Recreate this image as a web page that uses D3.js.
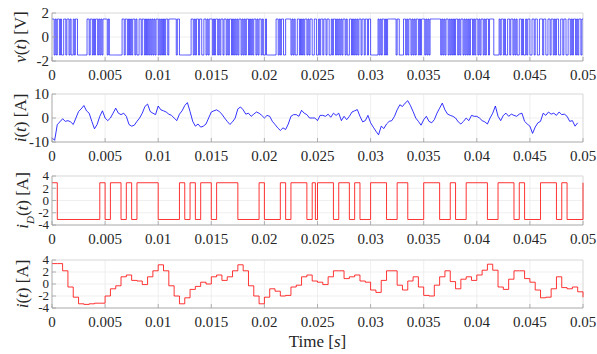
<!DOCTYPE html>
<html>
<head>
<meta charset="utf-8">
<script src="https://cdn.jsdelivr.net/npm/d3@7"></script>
<style>
  body { margin: 0; background: #fff; }
  svg text { font-family: "Liberation Serif", "Times New Roman", serif; fill: #262626; }
</style>
</head>
<body>
<figure style="margin:0"></figure>
<script>
// x axis
const xTicks = [0, 0.005, 0.01, 0.015, 0.02, 0.025, 0.03, 0.035, 0.04, 0.045, 0.05];
const xTickLabels = ["0", "0.005", "0.01", "0.015", "0.02", "0.025", "0.03", "0.035", "0.04", "0.045", "0.05"];

// v(t): switching state, one char per 0.1 ms, one string per 5 ms
const vStep = 0.0001;
const vLevels = [-1.5, 1.5];
const vBits = [
  "11010110100110110100101100000000011011010110101011",
  "11010000000000001101101010110100110110101010101011",
  "01010101101111111011000000000001101011011001101011",
  "10101101011011010110101010110101011010101101011010",
  "01000000000110101100111110101001101010110101100110",
  "01011011011001011010101011010011010101011011011011",
  "00000001010110101111111101100001101011010101101011",
  "10101011111111110101011010101011010110101010110101",
  "10101101011011110000010110100110110101001101001011",
  "00110110011101100110110101100110110011010110101101"
];

// i(t): sampled every 0.25 ms
const iStep = 0.00025;
const iVals = [
  -8.2, -9.3, -2.7, -1.6, -0.3, -1.4, -1.1, -1.6, -2.7, 0, 2.7, 3.8, 5.2, 3, 2, -1.4, -4.5, -2.7, 0.7, 3,
  0, -1.1, 0, 2, 4.1, 2, 1.4, 2, 0.7, -2.7, -3.4, -3, -1.4, 0, 2, 4.8, 5.8, 2.7, 2, 1.4,
  5, 3.4, 3, 2.5, 1.6, 1.1, 0, -1.1, 1.6, 3, 5.2, 6.4, 2.7, -1.4, -3.4, -2.5, -3.8, -3.4, -2.5, 0,
  2.5, 3, 3.4, 2.7, 1.6, 0, -1.4, -2.7, -1.6, 0, 3.8, 4.6, 3.4, 1.6, 2, 0.7, 1.6, 2.5, 2, 1.1,
  0, 1.1, 0.7, -1.4, -2.7, -4.1, -5.2, -4.1, -4.8, -2.5, 0.7, 1.4, 1.4, 0.7, 3.2, 2, 1.4, 0, 0, 0,
  -1.1, 1.1, 1.1, 0.7, 1.6, 0.3, 2, 1.1, 2, -1.1, 0.7, -0.7, 0.7, 2.5, 3, 3.5, 0.7, -1.6, -1.1, 1.1,
  -2, -3.8, -5.5, -7, -3.4, -4.4, -2.5, -1.4, -1.1, 0.7, 3.4, 5.5, 4.8, 6.2, 7.2, 5.2, 2.7, 0, -1.4, -3,
  -0.7, 0.7, -1.4, -2, -0.7, 2, 4.1, 6.2, 3.4, 1.6, 1.1, 0.7, 0, -1.6, -2.5, -1.4, 0, -1.1, 1.1, 0.7,
  0.7, 0, -1.1, -1.6, -2.5, 0, 2, 5, 0.7, -1.1, 1.1, 2, 0.7, 1.6, 1.1, 0.7, 1.6, 2, -1.4, -2.5,
  -3.4, -6.4, -3.8, -2, -1.4, 2, 1.1, 2.5, 1.6, 2, 1.1, 2.5, 1.4, 1.6, 0.7, -1.4, -1.1, -3.4, -2
];

// i_D(t): two levels, switching times (starts high)
const iDLevels = [2.9, -3.1];
const iDSwitch = [0.0005, 0.0045, 0.005, 0.0055, 0.0065, 0.007, 0.0075, 0.008, 0.01, 0.012,
  0.0125, 0.013, 0.0135, 0.014, 0.015, 0.0155, 0.0175, 0.0195, 0.02, 0.0215,
  0.022, 0.0225, 0.024, 0.0245, 0.0248, 0.025, 0.0265, 0.027, 0.028, 0.0285,
  0.029, 0.03, 0.0315, 0.0325, 0.0335, 0.035, 0.0365, 0.0375, 0.038, 0.039,
  0.041, 0.042, 0.0435, 0.044, 0.0445, 0.046, 0.0475, 0.048, 0.0485, 0.05];

// filtered i(t): held for 0.5 ms, last entry is the value at 0.05
const hStep = 0.0005;
const hVals = [
  3.4, 3.4, 2.2, -0.5, -2.2, -3.3, -3.4, -3.3, -3.2, -3.2,
  -2.0, -0.8, -0.3, 1.2, 1.5, 0.6, 0.5, -0.1, 1.2, 2.2,
  3.2, 2.2, -0.3, -2.0, -3.3, -2.3, -0.9, -0.4, 0.3, 0,
  1.2, 1.5, 0.6, 1.2, 2.2, 3.2, 2.2, -0.3, -2.0, -3.3,
  -2.2, -0.8, -1.2, -2.0, -1.9, -0.5, -0.2, 1.2, 1.5, 0.5,
  0.3, -0.1, 1.2, 2.2, 2.2, 0.9, 1.2, 1.5, 0.5, 0.3,
  -1.0, -1.4, 0.6, 2.2, 2.2, -0.2, -1.0, 0.5, 1.2, -0.5,
  -1.9, -2.0, -0.2, 1.2, 2.2, 0.4, -0.8, 0.8, 1.2, 0.6,
  1.5, 2.3, 3.3, 2.3, -0.5, -0.9, 0.8, 2.2, 2.2, 0.9,
  0.3, -1.0, -2.3, -2.2, -0.8, 1.2, -0.6, -0.8, -0.5, -1.3,
  -2.2
];

const W = 597, H = 354;
const left = 52, right = 583;
const blue = "#0000ff", red = "#ff0000";

const svg = d3.select("figure").append("svg")
  .attr("width", W).attr("height", H);

const x = d3.scaleLinear().domain([0, 0.05]).range([left, right]);

// build series
const vData = [];
vBits.join("").split("").forEach((c, k) => vData.push([k * vStep, vLevels[c === "1" ? 1 : 0]]));
vData.push([0.05, vData[vData.length - 1][1]]);

const iData = iVals.map((v, k) => [k * iStep, v]);

const iDData = [[0, iDLevels[0]]];
iDSwitch.forEach((t, k) => iDData.push([t, iDLevels[(k + 1) % 2]]));

const hData = hVals.map((v, k) => [k * hStep, v]);

const panels = [
  { top: 13, bottom: 61, domain: [-2, 2], ticks: [-2, 0, 2], data: vData, curve: d3.curveStepAfter,
    color: blue, width: 0.65, fs: 15, label: [["v", true], ["(", false], ["t", true], [") [V]", false]] },
  { top: 94, bottom: 142, domain: [-10, 10], ticks: [-10, 0, 10], data: iData, curve: d3.curveLinear,
    color: blue, width: 0.8, fs: 15, label: [["i", true], ["(", false], ["t", true], [") [A]", false]] },
  { top: 176, bottom: 225, domain: [-4, 4], ticks: [-4, -2, 0, 2, 4], data: iDData, curve: d3.curveStepAfter,
    color: red, width: 0.8, fs: 13, label: [["i", true], ["D", true, "sub"], ["(", false], ["t", true], [") [A]", false]] },
  { top: 260, bottom: 308, domain: [-4, 4], ticks: [-4, -2, 0, 2, 4], data: hData, curve: d3.curveStepAfter,
    color: red, width: 0.8, fs: 13, label: [["i", true], ["(", false], ["t", true], [") [A]", false]] }
];

panels.forEach(p => {
  const y = d3.scaleLinear().domain(p.domain).range([p.bottom, p.top]);
  const g = svg.append("g");

  // grid
  g.selectAll(".gx").data(xTicks).enter().append("line")
    .attr("x1", d => x(d)).attr("x2", d => x(d))
    .attr("y1", p.top).attr("y2", p.bottom)
    .attr("stroke", "#ebebeb").attr("stroke-width", 0.8);
  g.selectAll(".gy").data(p.ticks).enter().append("line")
    .attr("x1", left).attr("x2", right)
    .attr("y1", d => y(d)).attr("y2", d => y(d))
    .attr("stroke", "#ebebeb").attr("stroke-width", 0.8);

  // box (top/right light)
  g.append("path")
    .attr("d", `M${left},${p.top}H${right}V${p.bottom}`)
    .attr("fill", "none").attr("stroke", "#d9d9d9").attr("stroke-width", 0.8);

  // data line
  g.append("path")
    .datum(p.data)
    .attr("fill", "none")
    .attr("stroke", p.color)
    .attr("stroke-width", p.width)
    .attr("d", d3.line().x(d => x(d[0])).y(d => y(d[1])).curve(p.curve));

  // axes (bottom/left)
  g.append("path")
    .attr("d", `M${left},${p.top}V${p.bottom}H${right}`)
    .attr("fill", "none").attr("stroke", "#a0a0a0").attr("stroke-width", 0.8);
  g.selectAll(".tx").data(xTicks).enter().append("line")
    .attr("x1", d => x(d)).attr("x2", d => x(d))
    .attr("y1", p.bottom).attr("y2", p.bottom - 4)
    .attr("stroke", "#a0a0a0").attr("stroke-width", 0.8);
  g.selectAll(".ty").data(p.ticks).enter().append("line")
    .attr("x1", left).attr("x2", left + 4)
    .attr("y1", d => y(d)).attr("y2", d => y(d))
    .attr("stroke", "#a0a0a0").attr("stroke-width", 0.8);

  // tick labels
  g.selectAll(".lx").data(xTicks).enter().append("text")
    .attr("x", d => x(d)).attr("y", p.bottom + 19)
    .attr("text-anchor", "middle").style("font-size", "15px")
    .text((d, i) => xTickLabels[i]);
  g.selectAll(".ly").data(p.ticks).enter().append("text")
    .attr("x", left - 3).attr("y", d => y(d)).attr("dy", "0.34em")
    .attr("text-anchor", "end").style("font-size", p.fs + "px")
    .text(d => d);

  // y label
  const lab = g.append("text")
    .attr("transform", `translate(${p.fs === 13 ? 28 : 26},${(p.top + p.bottom) / 2}) rotate(-90)`)
    .attr("text-anchor", "middle").style("font-size", "17px");
  p.label.forEach(([s, it, sub]) => {
    const ts = lab.append("tspan").text(s);
    if (it) ts.style("font-style", "italic");
    if (sub) ts.attr("baseline-shift", "sub").style("font-size", "11px");
  });
});

// x label
const xl = svg.append("text")
  .attr("x", (left + right) / 2).attr("y", 347)
  .attr("text-anchor", "middle").style("font-size", "17px");
xl.append("tspan").text("Time [");
xl.append("tspan").text("s").style("font-style", "italic");
xl.append("tspan").text("]");
</script>
</body>
</html>
